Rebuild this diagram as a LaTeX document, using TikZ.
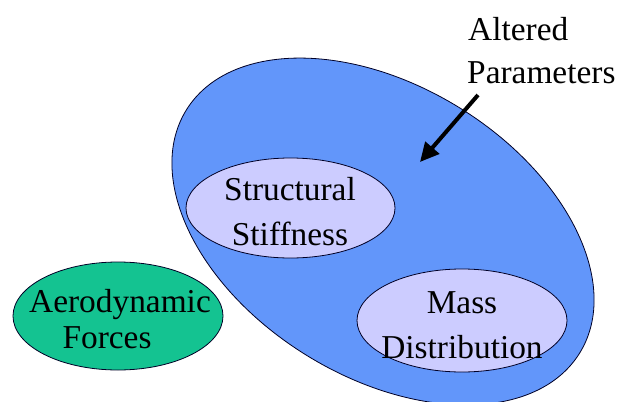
\documentclass[tikz,border=0pt]{standalone}
\usepackage{fontspec}
\setmainfont{Liberation Serif}
\usetikzlibrary{shapes.geometric,arrows.meta}
\definecolor{bigblue}{RGB}{98,150,250}
\definecolor{lav}{RGB}{204,204,255}
\definecolor{aerogreen}{RGB}{20,195,145}
\tikzset{
  blob/.style={ellipse, draw=black!85!blue, line width=0.8bp, inner sep=0pt},
  lbl/.style={inner sep=0pt, font=\fontsize{33.5}{40}\selectfont},
  bigarrow/.style={-{Triangle[length=19bp,width=18bp]}, line width=4bp, black}
}
\begin{document}
\begin{tikzpicture}[x=1bp,y=1bp]
\useasboundingbox (0,0) rectangle (631,401);
\coordinate (bigc) at (383,169.5);
\draw[draw=black!85!blue, line width=0.8bp, fill=bigblue, rotate around={-31.7:(bigc)}] (bigc) ellipse [x radius=231.2, y radius=145.5];
\node[blob, fill=lav, minimum width=209bp, minimum height=100bp] (struct) at (290.5,193) {};
\node[blob, fill=lav, minimum width=210bp, minimum height=103bp] (mass) at (462,80.5) {};
\node[blob, fill=aerogreen, minimum width=210bp, minimum height=108bp] (aero) at (118,85) {};
\node[lbl, anchor=base] (t1) at (290,201) {Structural};
\node[lbl, anchor=base] (t2) at (290,156) {Stiffness};
\node[lbl, anchor=base] (t3) at (462,88) {Mass};
\node[lbl, anchor=base] (t4) at (462,43) {Distribution};
\node[lbl, anchor=base] (t5) at (120,89) {Aerodynamic};
\node[lbl, anchor=base] (t6) at (107,53) {Forces};
\node[lbl, anchor=base west] (t7) at (468,361) {Altered};
\node[lbl, anchor=base west] (t8) at (467,318) {Parameters};
\coordinate (as) at (478,306);
\coordinate (at) at (420,239);
\draw[bigarrow] (as) -- (at);
\end{tikzpicture}
\end{document}
